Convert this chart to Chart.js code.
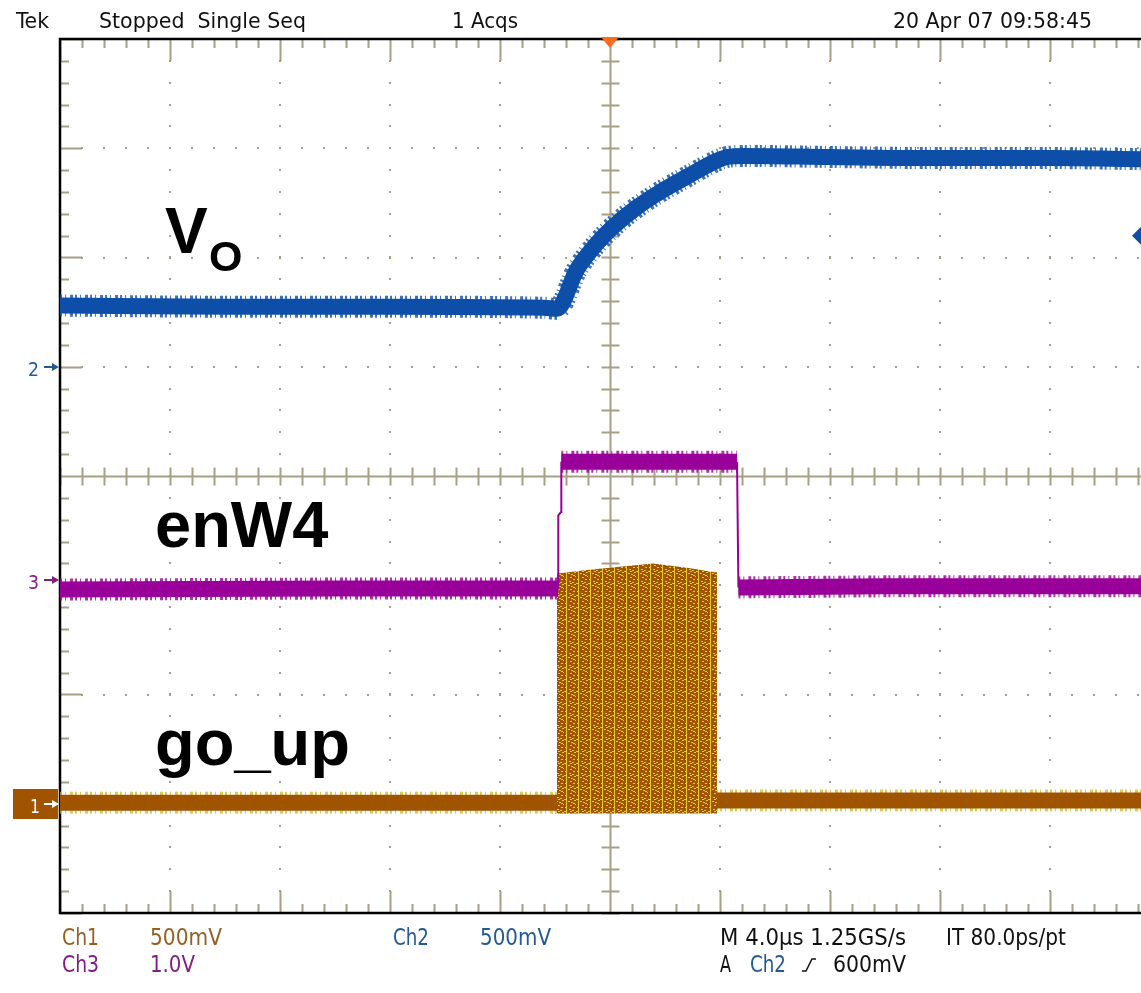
<html><head><meta charset="UTF-8"><title>Tek scope capture</title><style>
body {
    margin: 0;
    background-color: white;
    overflow: hidden;
}
#scope {
    display: block;
}
</style>
<script src="https://cdn.jsdelivr.net/npm/chart.js"></script>
</head>
<body>
<canvas id="scope" width="1141" height="993"></canvas>

<script>
// time in µs (4 µs/div, trigger at 0), levels in screen divisions (centre = 0)
const timeVo = [-20, -14, -8, -2.4, -1.93, -1.2, -0.47, 0.11, 0.98, 1.82, 2.8, 3.75, 4.26, 4.9, 8, 12, 16, 19.31];
const vo =     [1.56, 1.55, 1.55, 1.54, 1.53, 1.89, 2.13, 2.28, 2.46, 2.60, 2.74, 2.87, 2.92, 2.93, 2.92, 2.91, 2.91, 2.90];

const timeEn = [-20, -10, -1.89, -1.88, -1.78, -1.77, 4.62, 4.67, 10, 19.31];
const enW4 =   [-1.04, -1.03, -1.03, -0.36, -0.33, 0.13, 0.13, -1.02, -1.01, -1.01];

const timeGo = [-20, -10, -1.93, 3.89, 10, 19.31];
const goUp =   [-2.99, -2.99, -2.99, -2.97, -2.97, -2.97];

const timeBurst =   [-1.93, -1.82, -0.84, 0.36, 1.56, 2.8, 3.82, 3.89];
const burstTop =    [-0.89, -0.89, -0.86, -0.83, -0.80, -0.84, -0.88, -0.88];
const burstBottom = [-3.09, -3.09, -3.09, -3.09, -3.09, -3.09, -3.09, -3.09];

const headerTexts = ['Tek', 'Stopped  Single Seq', '1 Acqs', '20 Apr 07 09:58:45'];

const BLUE = 'rgb(13,79,168)';
const PURPLE = 'rgb(153,0,153)';
const BROWN = 'rgb(160,84,0)';
const GRID = '#a6a086';

function pts(xs, ys) {
    return xs.map((x, i) => ({ x: x, y: ys[i] }));
}

// yellow speckle texture for the go_up burst
function burstPattern() {
    const c = document.createElement('canvas');
    c.width = 12; c.height = 12;
    const g = c.getContext('2d');
    g.fillStyle = BROWN;
    g.fillRect(0, 0, 12, 12);
    g.fillStyle = 'rgb(226,206,40)';
    g.fillRect(2, 0, 1, 12);
    const spots = [[6,1],[9,3],[5,5],[10,8],[7,10],[0,7],[4,9],[8,6],[11,0],[6,7],[1,3],[9,11]];
    spots.forEach(s => g.fillRect(s[0], s[1], 2, 1));
    return document.getElementById('scope').getContext('2d').createPattern(c, 'repeat');
}

function fitText(ctx, text, x, base, width, font, color) {
    ctx.save();
    ctx.font = font;
    ctx.fillStyle = color;
    ctx.textBaseline = 'alphabetic';
    const w = ctx.measureText(text).width;
    ctx.translate(x, base);
    ctx.scale(width / w, 1);
    ctx.fillText(text, 0, 0);
    ctx.restore();
}

const graticule = {
    id: 'graticule',
    beforeDatasetsDraw(chart) {
        const ctx = chart.ctx;
        const xs = chart.scales.x, ys = chart.scales.y;
        const a = chart.chartArea;
        const top = a.top, bot = a.bottom, left = a.left;
        ctx.save();
        ctx.fillStyle = GRID;
        ctx.strokeStyle = GRID;
        // dotted major lines
        for (let t = -16; t <= 16; t += 4) {
            if (t === 0) continue;
            const px = Math.round(xs.getPixelForValue(t));
            for (let v = -4; v <= 4.001; v += 0.2) {
                ctx.fillRect(px - 1, Math.round(ys.getPixelForValue(v)) - 1, 2, 2);
            }
        }
        for (let v = -3; v <= 3; v++) {
            if (v === 0) continue;
            const py = Math.round(ys.getPixelForValue(v));
            for (let t = -20; t <= 20; t += 0.8) {
                ctx.fillRect(Math.round(xs.getPixelForValue(t)) - 1, py - 1, 2, 2);
            }
        }
        // centre cross
        const cx = Math.round(xs.getPixelForValue(0)) + 0.5;
        const cy = Math.round(ys.getPixelForValue(0)) + 0.5;
        ctx.lineWidth = 2;
        ctx.beginPath();
        ctx.moveTo(cx, top); ctx.lineTo(cx, bot);
        ctx.moveTo(left, cy); ctx.lineTo(1141, cy);
        for (let v = -4; v <= 4.001; v += 0.2) {
            const py = Math.round(ys.getPixelForValue(v)) + 0.5;
            ctx.moveTo(cx - 9, py); ctx.lineTo(cx + 9, py);
            // left edge ticks
            const major = Math.abs(v - Math.round(v)) < 0.01;
            ctx.moveTo(left, py); ctx.lineTo(left + (major ? 22 : 9), py);
        }
        for (let t = -20; t <= 20; t += 0.8) {
            const px = Math.round(xs.getPixelForValue(t)) + 0.5;
            ctx.moveTo(px, cy - 9); ctx.lineTo(px, cy + 9);
            const major = Math.abs(t / 4 - Math.round(t / 4)) < 0.01;
            const len = major ? 22 : 9;
            ctx.moveTo(px, top); ctx.lineTo(px, top + len);
            ctx.moveTo(px, bot); ctx.lineTo(px, bot - len);
        }
        ctx.stroke();
        // frame
        ctx.strokeStyle = '#000';
        ctx.lineWidth = 2.5;
        ctx.beginPath();
        ctx.moveTo(1141, top); ctx.lineTo(left, top); ctx.lineTo(left, bot); ctx.lineTo(1141, bot);
        ctx.stroke();
        ctx.restore();
    },
    afterDraw(chart) {
        const ctx = chart.ctx;
        const xs = chart.scales.x, ys = chart.scales.y;
        const hdr = '21px "Liberation Sans Narrow", "DejaVu Sans Condensed", sans-serif';
        const ft = '23px "Liberation Sans Narrow", "DejaVu Sans Condensed", sans-serif';
        fitText(ctx, headerTexts[0], 16, 28, 33, hdr, '#111');
        fitText(ctx, headerTexts[1], 99, 28, 207, hdr, '#111');
        fitText(ctx, headerTexts[2], 452, 28, 66, hdr, '#111');
        fitText(ctx, headerTexts[3], 893, 28, 199, hdr, '#111');

        const chBrown = 'rgb(150,96,36)', chPurple = 'rgb(130,30,130)', chBlue = 'rgb(35,90,150)';
        fitText(ctx, 'Ch1', 62, 945, 37, ft, chBrown);
        fitText(ctx, '500mV', 150, 945, 72, ft, chBrown);
        fitText(ctx, 'Ch2', 393, 945, 36, ft, chBlue);
        fitText(ctx, '500mV', 480, 945, 71, ft, chBlue);
        fitText(ctx, 'M 4.0\u00b5s 1.25GS/s', 720, 945, 186, ft, '#111');
        fitText(ctx, 'IT 80.0ps/pt', 946, 945, 120, ft, '#111');
        fitText(ctx, 'Ch3', 62, 972, 37, ft, chPurple);
        fitText(ctx, '1.0V', 150, 972, 45, ft, chPurple);
        fitText(ctx, 'A', 720, 972, 11, ft, '#111');
        fitText(ctx, 'Ch2', 750, 972, 36, ft, chBlue);
        fitText(ctx, '600mV', 833, 972, 73, ft, '#111');
        ctx.save();
        ctx.strokeStyle = '#111';
        ctx.lineWidth = 1.5;
        ctx.beginPath();
        ctx.moveTo(802, 971); ctx.lineTo(806, 971); ctx.lineTo(812, 959); ctx.lineTo(816, 959);
        ctx.stroke();
        ctx.restore();

        // trace names
        ctx.save();
        ctx.fillStyle = '#000';
        ctx.font = 'bold 64px "Liberation Sans", Arial, sans-serif';
        ctx.fillText('V', 165, 253);
        ctx.font = 'bold 43px "Liberation Sans", Arial, sans-serif';
        ctx.fillText('O', 209, 271);
        ctx.font = 'bold 65px "Liberation Sans", Arial, sans-serif';
        ctx.fillText('enW4', 155, 547);
        ctx.fillText('go_up', 155, 765);
        ctx.restore();

        // channel ground markers
        ctx.save();
        const mk = '20px "Liberation Sans Narrow", "DejaVu Sans Condensed", sans-serif';
        function arrow(y, color) {
            ctx.strokeStyle = color; ctx.fillStyle = color; ctx.lineWidth = 2;
            ctx.beginPath(); ctx.moveTo(44, y); ctx.lineTo(54, y); ctx.stroke();
            ctx.beginPath(); ctx.moveTo(59, y); ctx.lineTo(52, y - 4); ctx.lineTo(52, y + 4); ctx.closePath(); ctx.fill();
        }
        fitText(ctx, '2', 28, 376, 11, mk, chBlue);
        arrow(367, chBlue);
        fitText(ctx, '3', 28, 589, 11, mk, chPurple);
        arrow(580, chPurple);
        ctx.fillStyle = BROWN;
        ctx.fillRect(13, 789, 45, 30);
        fitText(ctx, '1', 30, 813, 10, mk, '#fff');
        arrow(804, '#fff');
        // trigger position (top) and trigger level (right)
        const tx = xs.getPixelForValue(0);
        ctx.fillStyle = 'rgb(255,106,30)';
        ctx.beginPath(); ctx.moveTo(tx - 9, 37); ctx.lineTo(tx + 9, 37); ctx.lineTo(tx, 48); ctx.closePath(); ctx.fill();
        const ty = ys.getPixelForValue(2.2);
        ctx.fillStyle = BLUE;
        ctx.beginPath(); ctx.moveTo(1132, ty); ctx.lineTo(1141, ty - 9); ctx.lineTo(1141, ty + 9); ctx.closePath(); ctx.fill();
        ctx.restore();
    }
};

function band(data, color, width, fringe) {
    const thin = c => Math.abs(c.p1.parsed.x - c.p0.parsed.x) < 0.2;
    return {
        data: data,
        borderColor: color,
        borderWidth: width,
        borderCapStyle: 'butt',
        borderDash: fringe ? [2, 3, 1, 4, 3, 2] : [],
        pointRadius: 0,
        fill: false,
        tension: 0,
        segment: {
            borderWidth: c => thin(c) ? 2 : width,
            borderColor: c => thin(c) && fringe ? 'rgba(0,0,0,0)' : color
        }
    };
}

const ctx = document.getElementById('scope').getContext('2d');
const voCore = band(pts(timeVo, vo), BLUE, 16, false);
voCore.cubicInterpolationMode = 'monotone';
const voFringe = band(pts(timeVo, vo), 'rgba(13,79,168,0.8)', 22, true);
voFringe.cubicInterpolationMode = 'monotone';

new Chart(ctx, {
    type: 'line',
    data: {
        datasets: [
            voCore,
            voFringe,
            band(pts(timeEn, enW4), PURPLE, 16, false),
            band(pts(timeEn, enW4), 'rgba(153,0,153,0.8)', 22, true),
            {
                data: pts(timeBurst, burstTop),
                borderWidth: 0,
                pointRadius: 0,
                backgroundColor: burstPattern(),
                fill: '+1'
            },
            {
                data: pts(timeBurst, burstBottom),
                borderWidth: 0,
                pointRadius: 0,
                fill: false
            },
            band(pts(timeGo, goUp), BROWN, 16, false),
            band(pts(timeGo, goUp), 'rgba(214,186,30,0.75)', 22, true)
        ]
    },
    options: {
        responsive: false,
        animation: false,
        layout: { padding: { left: 60, top: 39, right: 0, bottom: 80 } },
        plugins: { legend: { display: false }, tooltip: { enabled: false } },
        scales: {
            x: { type: 'linear', min: -20, max: 19.31, display: false },
            y: { type: 'linear', min: -4, max: 4, display: false }
        }
    },
    plugins: [graticule]
});
</script>
</body></html>
